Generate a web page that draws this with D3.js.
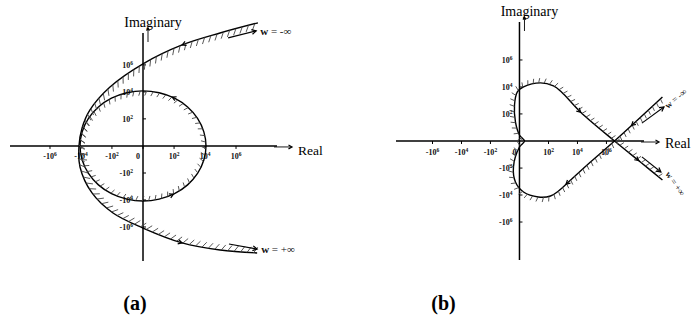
<!DOCTYPE html>
<html><head><meta charset="utf-8">
<script src="https://cdn.jsdelivr.net/npm/d3@7"></script>
<style>body{margin:0;background:#fff}svg{display:block}</style>
</head><body>
<svg id="c" width="692" height="327"></svg>
<script>
// ---- data ----
const tickValues = [-1e6, -1e4, -1e2, 0, 1e2, 1e4, 1e6];
const tickExps   = [6, 4, 2, 0, 2, 4, 6];

// panel (a)
const aXExtent = [-3.8e8, 4.4e8];
const aYExtent = [-3.3e8, 2.3e8];
const aOuter = [[2.6e7,1.3e9],[9.3e4,2.3e8],[330,3.0e7],[0,1.2e6],[-134,2.3e4],[-2630,463],[-8600,20],[-1.35e4,0],
  [-1.16e4,-35],[-1950,-3030],[-85,-9.2e4],[0,-1.2e6],[330,-1.5e7],[9.3e4,-5.1e7],[2.3e7,-8.4e7]];
const aCircle = [[1.16e4,0],[8400,10],[3300,108],[750,760],[107,3400],[10,8600],[0,1.2e4],
  [-10,8600],[-107,3400],[-750,760],[-3300,108],[-8400,10],[-1.16e4,0],
  [-8400,-10],[-3300,-108],[-750,-760],[-107,-3400],[-10,-8600],[0,-1.2e4],
  [10,-8600],[107,-3400],[750,-760],[3300,-108],[8400,-10]];
const aOuterArrows = [[330,3.0e7],[330,-1.5e7]];
const aCircleArrows = [[73,3600],[99,-4260]];
const aInfArrows = [
  {from:[3.1e5,1.0e8], to:[2.0e7,3.3e8], label:"-∞"},
  {from:[3.5e5,-1.8e7], to:[2.3e7,-4.3e7], label:"+∞"}];

// panel (b)
const bXExtent = [-3.3e8, 3.9e8];
const bYExtent = [-6.5e8, 6.5e8];
const bHeart = [[7.3e9,1800],[1.4e8,35],[3.6e6,0],[7.9e4,-35],[2400,-1090],[490,-5050],[137,-1.19e4],[19,-1.4e4],
  [0.9,-6000],[-0.9,-1090],[-1.6,-83],[0,-1.8],[1.2,0],[0,1.8],[-0.9,25],[-1.2,460],[-0.4,4260],[0.9,1e4],
  [27,2e4],[220,1.19e4],[790,4260],[1.6e4,140],[3.6e6,0],[2.2e8,-35],[7.3e9,-770]];
const bArrows = [[1.75e4,140],[1600,-1530],[4.9e7,14],[1.75e8,-25]];
const bInfArrows = [
  {from:[2.8e8,20], to:[9.3e9,329], label:"-∞", rot:-40},
  {from:[2.8e8,-14], to:[5.7e9,-197], label:"+∞", rot:55}];

// ---- drawing ----
const svg = d3.select('#c');
const FONT = "'Liberation Serif','Times New Roman',serif";
const sym = (dom, rng) => d3.scaleSymlog().constant(1).domain(dom).range(rng);

function head(g, x, y, ang, size){
  const a1 = ang + Math.PI - 0.5, a2 = ang + Math.PI + 0.5;
  g.append('path')
    .attr('d', `M${x+size*Math.cos(a1)},${y+size*Math.sin(a1)}L${x},${y}L${x+size*Math.cos(a2)},${y+size*Math.sin(a2)}`)
    .attr('fill','none').attr('stroke','#000').attr('stroke-width',1.2);
}
function hatch(g, node, step, len, angle, color){
  const L = node.getTotalLength(), out = [];
  const c = Math.cos(angle), s = Math.sin(angle);
  for(let l = step/2; l < L; l += step){
    const p0 = node.getPointAtLength(Math.max(0,l-0.6)), p1 = node.getPointAtLength(Math.min(L,l+0.6));
    let dx = p1.x-p0.x, dy = p1.y-p0.y; const n = Math.hypot(dx,dy)||1; dx/=n; dy/=n;
    const nx = dy, ny = -dx;
    const hx = nx*c + dx*s, hy = ny*c + dy*s;
    const p = node.getPointAtLength(l);
    out.push([p.x, p.y, p.x+hx*len, p.y+hy*len]);
  }
  g.append('g').selectAll('line').data(out).enter().append('line')
    .attr('x1',d=>d[0]).attr('y1',d=>d[1]).attr('x2',d=>d[2]).attr('y2',d=>d[3])
    .attr('stroke',color||'#444').attr('stroke-width',0.9);
}
function arrowOn(g, node, tx, ty, size){
  const L = node.getTotalLength(); let best = 0, bd = 1e12;
  for(let l = 0; l <= L; l += 0.5){ const p = node.getPointAtLength(l); const d = (p.x-tx)**2+(p.y-ty)**2; if(d<bd){bd=d;best=l;} }
  const p0 = node.getPointAtLength(Math.max(0,best-1)), p1 = node.getPointAtLength(Math.min(L,best+1));
  const p = node.getPointAtLength(best);
  head(g, p.x, p.y, Math.atan2(p1.y-p0.y, p1.x-p0.x), size);
}
function tickLabel(g, x, y, v, e, anchor){
  const t = g.append('text').attr('x',x).attr('y',y).attr('text-anchor',anchor)
    .attr('font-family',FONT).attr('font-weight','bold').attr('font-size',8).attr('fill','#111');
  if(v === 0){ t.text('0'); return; }
  t.append('tspan').text((v<0?'-':'')+'10');
  t.append('tspan').attr('dy',-3).attr('font-size',5.5).text(e);
}
function axes(g, x, y, opt){
  const x0 = x(0), y0 = y(0);
  const xr = x.range(), yr = y.range();
  g.append('line').attr('x1',xr[0]).attr('x2',xr[1]).attr('y1',y0).attr('y2',y0).attr('stroke','#000').attr('stroke-width',1.5);
  g.append('line').attr('x1',x0).attr('x2',x0).attr('y1',yr[0]).attr('y2',yr[1]).attr('stroke','#000').attr('stroke-width',1.5);
  // real-axis arrow
  g.append('line').attr('x1',xr[1]-3).attr('x2',xr[1]+14).attr('y1',y0+1).attr('y2',y0+1).attr('stroke','#000').attr('stroke-width',0.9);
  head(g, xr[1]+15, y0+1, 0, 4);
  // imaginary arrow
  g.append('line').attr('x1',x0+5).attr('x2',x0+5).attr('y1',yr[1]+9).attr('y2',yr[1]-4).attr('stroke','#000').attr('stroke-width',0.9);
  head(g, x0+5, yr[1]-5, -Math.PI/2, 3);
  g.append('text').attr('x',xr[1]+21).attr('y',y0+opt.realDy).attr('font-family',FONT).attr('font-size',opt.realSize).text('Real');
  g.append('text').attr('x',x0+opt.imDx).attr('y',opt.imY).attr('text-anchor','middle').attr('font-family',FONT).attr('font-size',14).text('Imaginary');
  tickValues.forEach((v,i)=>{
    const px = x(v);
    g.append('line').attr('x1',px).attr('x2',px).attr('y1',y0).attr('y2',y0+3).attr('stroke','#000').attr('stroke-width',1);
    tickLabel(g, v===0 ? px-3 : px, y0+opt.xLabDy, v, tickExps[i], v===0?'end':'middle');
    if(v !== 0){
      const py = y(v);
      g.append('line').attr('x1',x0).attr('x2',x0+3).attr('y1',py).attr('y2',py).attr('stroke','#000').attr('stroke-width',1);
      tickLabel(g, x0-opt.yLabDx, py+3, v, tickExps[i], 'end');
    }
  });
}
function infArrow(g, x, y, a, rot){
  const x1 = x(a.from[0]), y1 = y(a.from[1]), x2 = x(a.to[0]), y2 = y(a.to[1]);
  g.append('line').attr('x1',x1).attr('y1',y1).attr('x2',x2).attr('y2',y2).attr('stroke','#000').attr('stroke-width',1.1);
  head(g, x2, y2, Math.atan2(y2-y1, x2-x1), 5);
  const t = g.append('text').attr('font-family',FONT).attr('fill','#111');
  if(rot === undefined){
    t.attr('x',x2+4).attr('y',y2+4).attr('font-size',11);
  } else {
    t.attr('font-size',9).attr('transform',`translate(${x2+4},${y2+ (rot<0?2:2)}) rotate(${rot})`);
  }
  t.append('tspan').attr('font-weight','bold').text('w');
  t.append('tspan').text(' = '+a.label);
}

// ----- panel (a) -----
const ax = sym(aXExtent,[10,277]), ay = sym(aYExtent,[261,33]);
const ga = svg.append('g');
axes(ga, ax, ay, {realDy:9, realSize:13.5, imDx:10, imY:27, xLabDy:13, yLabDx:10});
const lineA = d3.line().x(d=>ax(d[0])).y(d=>ay(d[1])).curve(d3.curveCatmullRom.alpha(0.5));
const lineAc = d3.line().x(d=>ax(d[0])).y(d=>ay(d[1])).curve(d3.curveCatmullRomClosed.alpha(0.5));
const outerA = ga.append('path').attr('d',lineA(aOuter)).attr('fill','none').attr('stroke','#000').attr('stroke-width',1.4);
const circA = ga.append('path').attr('d',lineAc(aCircle)).attr('fill','none').attr('stroke','#000').attr('stroke-width',1.4);
hatch(ga, outerA.node(), 6.5, 7, 0.6);
hatch(ga, circA.node(), 6.5, 5, 0.35);
aOuterArrows.forEach(d=>arrowOn(ga, outerA.node(), ax(d[0]), ay(d[1]), 4.5));
aCircleArrows.forEach(d=>arrowOn(ga, circA.node(), ax(d[0]), ay(d[1]), 4.5));
aInfArrows.forEach(a=>infArrow(ga, ax, ay, a));

// ----- panel (b) -----
const bx = sym(bXExtent,[396,644]), by = sym(bYExtent,[260,22]);
const gb = svg.append('g');
axes(gb, bx, by, {realDy:7, realSize:14, imDx:10, imY:16, xLabDy:14, yLabDx:7});
const lineB = d3.line().x(d=>bx(d[0])).y(d=>by(d[1])).curve(d3.curveCatmullRom.alpha(0.5));
const heart = gb.append('path').attr('d',lineB(bHeart)).attr('fill','none').attr('stroke','#000').attr('stroke-width',1.4);
hatch(gb, heart.node(), 5.5, 5, 0.3);
bArrows.forEach(d=>arrowOn(gb, heart.node(), bx(d[0]), by(d[1]), 4.5));
bInfArrows.forEach(a=>infArrow(gb, bx, by, a, a.rot));

// panel captions
const captions = [{t:'(a)', x:ax(0)-8}, {t:'(b)', x:bx(0)-76}];
svg.selectAll('text.cap').data(captions).enter().append('text').attr('class','cap')
  .attr('x',d=>d.x).attr('y',310).attr('text-anchor','middle')
  .attr('font-family',FONT).attr('font-weight','bold').attr('font-size',20).text(d=>d.t);
</script>
</body></html>
